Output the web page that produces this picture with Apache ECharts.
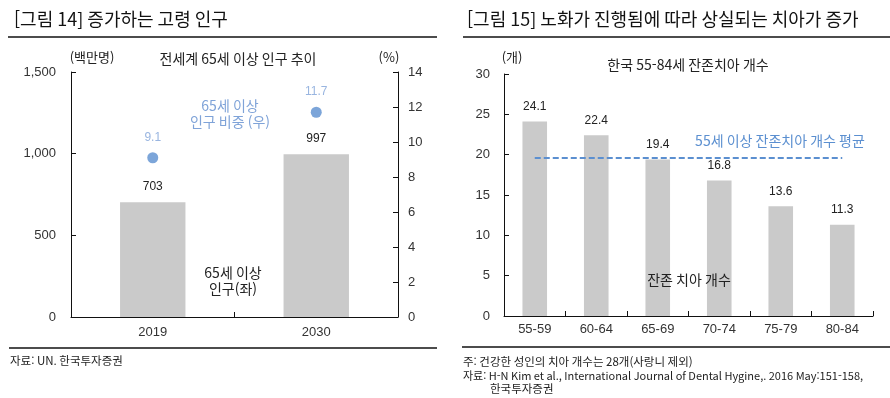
<!DOCTYPE html>
<html lang="ko">
<head>
    <meta charset="UTF-8">
    <title>고령 인구와 잔존 치아</title>
    <style>
        html, body { margin: 0; padding: 0; background: #fff; }
        #main { width: 890px; height: 398px; }
    </style>
</head>
<body>
<div id="main"></div>
<script src="https://cdn.jsdelivr.net/npm/echarts@6/dist/echarts.min.js"></script>
<script>
    // 그림 14 데이터
    var years = ['2019', '2030'];
    var popOld = [703, 997];          // 65세 이상 인구 (백만명)
    var popShare = [9.1, 11.7];       // 65세 이상 인구 비중 (%)
    var leftTicks = [0, 500, 1000, 1500];
    var rightTicks = [0, 2, 4, 6, 8, 10, 12, 14];

    // 그림 15 데이터
    var ageGroups = ['55-59', '60-64', '65-69', '70-74', '75-79', '80-84'];
    var teeth = [24.1, 22.4, 19.4, 16.8, 13.6, 11.3];
    var teethAvg = [19.6, 19.6, 19.6, 19.6, 19.6, 19.6];
    var teethTicks = [0, 5, 10, 15, 20, 25, 30];

    var FONT = '"Noto Sans CJK KR", "Noto Sans", sans-serif';
    var NUMFONT = '"Liberation Sans", Arial, sans-serif';
    var BLUE = '#5b8fd0';
    var LBLUE = '#7fa3d8';
    var GRAY = '#cacaca';

    var myChart = echarts.init(document.getElementById('main'), null, {renderer: 'canvas'});

    function txt(x, y, s, size, color, align) {
        return {
            type: 'text', x: x, y: y, z: 100,
            style: {
                text: s, fontFamily: FONT, fontSize: size, fill: color || '#222',
                textAlign: align || 'center', textVerticalAlign: 'middle'
            }
        };
    }
    function hline(x1, x2, y) {
        return {
            type: 'line', shape: {x1: x1, y1: y, x2: x2, y2: y},
            style: {stroke: '#111', lineWidth: 1.5}
        };
    }

    var axisLine = {show: true, lineStyle: {color: '#111', width: 1}};
    var axisTick = {show: true, inside: true, length: 5, lineStyle: {color: '#111'}};
    var axisLabel = {color: '#333', fontFamily: NUMFONT, fontSize: 13};

    var option = {
        animation: false,
        grid: [
            {left: 71, top: 72, width: 327, height: 245},
            {left: 504, top: 74, width: 369, height: 242}
        ],
        xAxis: [
            {
                gridIndex: 0, type: 'category', data: years,
                axisLine: axisLine, axisTick: axisTick,
                axisLabel: Object.assign({}, axisLabel, {margin: 9})
            },
            {
                gridIndex: 1, type: 'category', data: ageGroups,
                axisLine: axisLine, axisTick: axisTick,
                axisLabel: Object.assign({}, axisLabel, {margin: 7})
            }
        ],
        yAxis: [
            {
                gridIndex: 0, type: 'value', min: leftTicks[0], max: leftTicks[leftTicks.length - 1], interval: 500,
                axisLine: axisLine, axisTick: axisTick, splitLine: {show: false},
                axisLabel: Object.assign({}, axisLabel, {
                    margin: 15,
                    formatter: function (v) { return v.toLocaleString('en-US'); }
                })
            },
            {
                gridIndex: 0, type: 'value', position: 'right',
                min: rightTicks[0], max: rightTicks[rightTicks.length - 1], interval: 2,
                axisLine: axisLine, axisTick: axisTick, splitLine: {show: false},
                axisLabel: Object.assign({}, axisLabel, {margin: 10})
            },
            {
                gridIndex: 1, type: 'value', min: teethTicks[0], max: teethTicks[teethTicks.length - 1], interval: 5,
                axisLine: axisLine, axisTick: axisTick, splitLine: {show: false},
                axisLabel: Object.assign({}, axisLabel, {margin: 14})
            }
        ],
        series: [
            {
                type: 'bar', xAxisIndex: 0, yAxisIndex: 0, data: popOld, barWidth: '40%',
                itemStyle: {color: GRAY},
                label: {show: true, position: 'top', distance: 9, color: '#222', fontFamily: NUMFONT, fontSize: 12}
            },
            {
                type: 'scatter', xAxisIndex: 0, yAxisIndex: 1, data: popShare, symbolSize: 11,
                itemStyle: {color: BLUE},
                label: {show: true, position: 'top', distance: 9, color: LBLUE, fontFamily: NUMFONT, fontSize: 12}
            },
            {
                type: 'bar', xAxisIndex: 1, yAxisIndex: 2, data: teeth, barWidth: '40%',
                itemStyle: {color: GRAY},
                label: {show: true, position: 'top', distance: 9, color: '#222', fontFamily: NUMFONT, fontSize: 12}
            },
            {
                type: 'line', xAxisIndex: 1, yAxisIndex: 2, data: teethAvg, symbol: 'none',
                lineStyle: {color: BLUE, width: 2, type: [6, 3]}
            }
        ],
        graphic: [
            // 제목 & 구분선
            txt(14, 19, '[그림 14] 증가하는 고령 인구', 18, '#111', 'left'),
            txt(467, 19, '[그림 15] 노화가 진행됨에 따라 상실되는 치아가 증가', 18, '#111', 'left'),
            hline(8, 437, 37),
            hline(463, 890, 37),
            hline(9, 437, 348),
            hline(462, 890, 347),
            // 왼쪽 차트 주석
            txt(92, 57, '(백만명)', 13, '#222'),
            txt(238, 59, '전세계 65세 이상 인구 추이', 14, '#222'),
            txt(389, 57, '(%)', 13, '#222'),
            txt(230, 106, '65세 이상', 14, LBLUE),
            txt(230, 122, '인구 비중 (우)', 14, LBLUE),
            txt(233, 273, '65세 이상', 14, '#222'),
            txt(233, 289, '인구(좌)', 14, '#222'),
            txt(10, 361, '자료: UN. 한국투자증권', 11.5, '#222', 'left'),
            // 오른쪽 차트 주석
            txt(512, 57, '(개)', 13, '#222'),
            txt(688, 65, '한국 55-84세 잔존치아 개수', 14, '#222'),
            txt(780, 141, '55세 이상 잔존치아 개수 평균', 14, BLUE),
            txt(689, 280, '잔존 치아 개수', 14, '#222'),
            txt(463, 362, '주: 건강한 성인의 치아 개수는 28개(사랑니 제외)', 11.5, '#222', 'left'),
            txt(463, 376, '자료: H-N Kim et al., International Journal of Dental Hygine,. 2016 May:151-158,', 11, '#222', 'left'),
            txt(490, 389, '한국투자증권', 11.5, '#222', 'left')
        ]
    };

    myChart.setOption(option);
    window.addEventListener('resize', function () {
        myChart.resize();
    });
</script>
</body>
</html>
